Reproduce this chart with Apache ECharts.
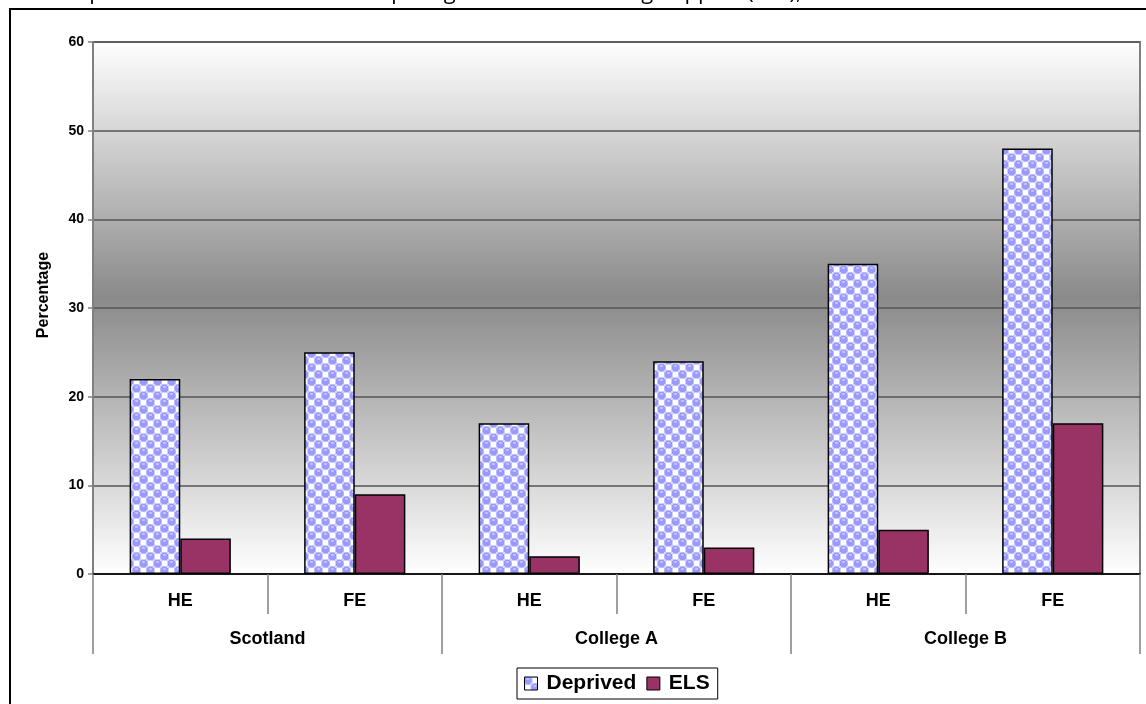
<!DOCTYPE html>
<html>
<head>
<meta charset="utf-8">
<script src="https://cdn.jsdelivr.net/npm/echarts@6/dist/echarts.min.js"></script>
<style>
  html, body { margin: 0; padding: 0; background: #ffffff; }
  #chart { width: 1146px; height: 704px; }
</style>
</head>
<body>
<div id="chart"></div>
<script>
// Level-of-study categories, grouped by institution
const levels = ['HE', 'FE', 'HE', 'FE', 'HE', 'FE'];
const groups = ['Scotland', 'College A', 'College B'];

// Percentages per series
const deprived = [22, 25, 17, 24, 35, 48];
const els = [4, 9, 2, 3, 5, 17];

// Value axis ticks
const yMin = 0, yMax = 60, yStep = 10;

const titleText = 'Percentage of students from deprived areas and students requiring Extended Learning Support (ELS), 2004-05';
const yAxisTitle = 'Percentage';

// Dotted lavender fill used for the "Deprived" bars: checker of round beads and white squares
function makeDotPattern() {
  const s = 14, h = 7;
  const c = document.createElement('canvas');
  c.width = s; c.height = s;
  const g = c.getContext('2d');
  g.fillStyle = '#ffffff';
  g.fillRect(0, 0, s, s);
  g.strokeStyle = '#cfcfff';
  g.lineWidth = 1;
  g.strokeRect(h + 0.5, 0.5, h - 1, h - 1);
  g.strokeRect(0.5, h + 0.5, h - 1, h - 1);
  [[h / 2, h / 2], [h + h / 2, h + h / 2]].forEach(function (p) {
    g.fillStyle = '#9999ff';
    g.beginPath();
    g.arc(p[0], p[1], 4.0, 0, Math.PI * 2);
    g.fill();
    g.fillStyle = '#dcdcff';
    g.beginPath();
    g.ellipse(p[0], p[1] - 1.5, 1.7, 0.8, 0, 0, Math.PI * 2);
    g.fill();
  });
  return c;
}

const chart = echarts.init(document.getElementById('chart'), null, { renderer: 'canvas' });
const dotPattern = { image: makeDotPattern(), repeat: 'repeat' };
const boldFont = 'Liberation Sans, Arial, sans-serif';

chart.setOption({
  animation: false,
  backgroundColor: '#ffffff',
  graphic: [
    {
      type: 'rect', z: -10, silent: true,
      shape: { x: 10, y: 9, width: 1300, height: 900 },
      style: { fill: 'none', stroke: '#000000', lineWidth: 2 }
    },
    {
      type: 'text', silent: true,
      style: {
        x: 890, y: 4, text: titleText, align: 'right', verticalAlign: 'bottom',
        font: '22px "Open Sans", "Liberation Sans", sans-serif', fill: '#000000'
      }
    },
    {
      type: 'text', silent: true,
      x: 44, y: 295, rotation: Math.PI / 2,
      style: {
        text: yAxisTitle, align: 'center', verticalAlign: 'middle',
        font: 'bold 16px Liberation Sans, Arial, sans-serif', fill: '#000000'
      }
    }
  ],
  grid: {
    left: 93, top: 42, right: 6, bottom: 130,
    show: true,
    borderColor: '#808080',
    borderWidth: 2,
    backgroundColor: new echarts.graphic.LinearGradient(0, 0, 0, 1, [
      { offset: 0, color: '#ffffff' },
      { offset: 0.48, color: '#8a8a8a' },
      { offset: 1, color: '#ffffff' }
    ])
  },
  legend: {
    left: 517, top: 668,
    itemWidth: 13, itemHeight: 13, itemGap: 10,
    padding: [5, 8, 5, 7],
    borderColor: '#000000', borderWidth: 1,
    backgroundColor: '#ffffff',
    icon: 'rect',
    textStyle: { fontFamily: boldFont, fontWeight: 'bold', fontSize: 21, color: '#000000', padding: [0, 0, 0, 4] },
    itemStyle: { borderColor: '#000000', borderWidth: 1 },
    data: ['Deprived', 'ELS']
  },
  xAxis: [
    {
      type: 'category',
      data: levels,
      position: 'bottom',
      axisLine: { show: true, lineStyle: { color: '#000000', width: 1.5 } },
      axisTick: { show: true, length: 40, lineStyle: { color: '#808080', width: 1.5 } },
      axisLabel: { margin: 18, fontFamily: boldFont, fontWeight: 'bold', fontSize: 18, color: '#000000' },
      splitLine: { show: false }
    },
    {
      type: 'category',
      data: groups,
      position: 'bottom',
      axisLine: { show: false },
      axisTick: { show: true, length: 80, lineStyle: { color: '#808080', width: 1.5 } },
      axisLabel: { margin: 56, fontFamily: boldFont, fontWeight: 'bold', fontSize: 18, color: '#000000' },
      splitLine: { show: false }
    }
  ],
  yAxis: {
    type: 'value',
    min: yMin, max: yMax, interval: yStep,
    axisLine: { show: true, lineStyle: { color: '#808080', width: 2 } },
    axisTick: { show: true, length: 5, lineStyle: { color: '#808080', width: 1.5 } },
    axisLabel: { margin: 9, fontFamily: boldFont, fontWeight: 'bold', fontSize: 14, color: '#000000' },
    splitLine: { show: true, lineStyle: { color: '#555555', width: 1.5 } }
  },
  series: [
    {
      name: 'Deprived', type: 'bar', xAxisIndex: 0,
      data: deprived,
      barGap: '0%', barCategoryGap: '42%',
      itemStyle: { color: dotPattern, borderColor: '#000000', borderWidth: 1.5 }
    },
    {
      name: 'ELS', type: 'bar', xAxisIndex: 0,
      data: els,
      barGap: '0%', barCategoryGap: '42%',
      itemStyle: { color: '#993366', borderColor: '#000000', borderWidth: 1.5 }
    }
  ]
});
</script>
</body>
</html>
